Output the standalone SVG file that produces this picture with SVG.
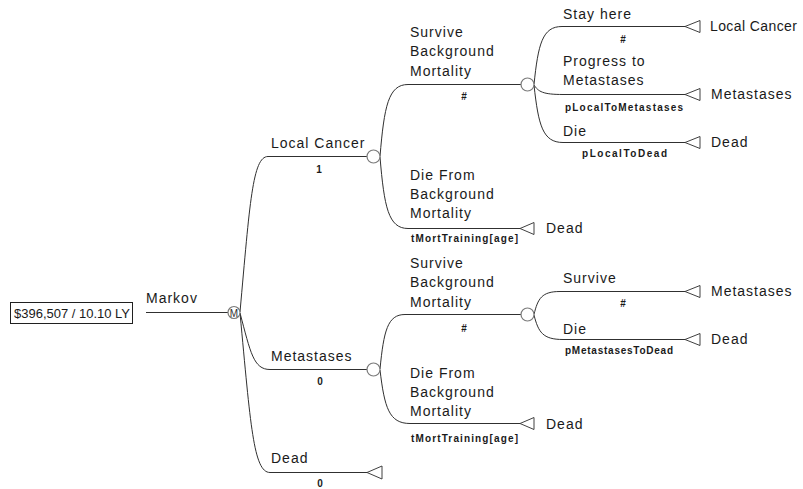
<svg xmlns="http://www.w3.org/2000/svg" width="803" height="489" viewBox="0 0 803 489">
<style>
.bg{fill:#fff}
.ln{fill:none;stroke:#303030;stroke-width:1}
.ch{fill:#fff;stroke:#7a7a7a;stroke-width:1.2}
.tm{fill:#fff;stroke:#404040;stroke-width:1}
.t{font-family:"Liberation Sans",Arial,sans-serif;font-size:14px;letter-spacing:1px;fill:#1a1a1a}
.s{font-family:"Liberation Sans",Arial,sans-serif;font-size:10px;font-weight:bold;fill:#1a1a1a}
.c{text-anchor:middle}
</style>
<rect class="bg" x="0" y="0" width="803" height="489"/>

<g id="connectors">
  <path class="ln" d="M146 312.5 H228"/>
  <path class="ln" d="M240 312 C249.8 203 252.6 156.5 268 156.5 H367"/>
  <path class="ln" d="M240 313 C250.5 352.5 253.5 369.5 270 369.5 H367"/>
  <path class="ln" d="M240 313 C250.5 424.6 253.5 472.5 270 472.5 H367"/>
  <path class="ln" d="M380 156.5 C384.2 106.1 388.4 84.5 408 84.5 H521"/>
  <path class="ln" d="M380 157 C384.2 207 388.4 228.5 408 228.5 H520"/>
  <path class="ln" d="M534 84.5 C538.2 43.9 542.4 26.5 562 26.5 H685"/>
  <path class="ln" d="M534 85 C538.4 91.6 542.7 94.5 563 94.5 H685"/>
  <path class="ln" d="M534 85 C538.4 125.3 542.7 142.5 563 142.5 H685"/>
  <path class="ln" d="M380 369 C383.8 330.9 387.5 314.5 405 314.5 H521"/>
  <path class="ln" d="M380 370 C384.5 407.5 389 423.5 410 423.5 H520"/>
  <path class="ln" d="M534 314.5 C537.9 298.4 541.8 291.5 560 291.5 H685"/>
  <path class="ln" d="M534 315 C538.4 332.2 542.7 339.5 563 339.5 H685"/>

  <text class="t" x="146" y="303">Markov</text>
  <text class="t" x="271" y="148">Local Cancer</text>
  <text class="s c" x="319" y="173">1</text>
  <text class="t" x="271" y="361">Metastases</text>
  <text class="s c" x="320" y="385">0</text>
  <text class="t" x="271" y="463">Dead</text>
  <text class="s c" x="320" y="487">0</text>

  <text class="t" x="410" y="37">Survive</text>
  <text class="t" x="410" y="56">Background</text>
  <text class="t" x="410" y="76">Mortality</text>
  <text class="s c" x="464" y="100">#</text>

  <text class="t" x="410" y="180">Die From</text>
  <text class="t" x="410" y="199">Background</text>
  <text class="t" x="410" y="218">Mortality</text>
  <text class="s" x="411" y="242" textLength="107" lengthAdjust="spacing">tMortTraining[age]</text>

  <text class="t" x="563" y="19">Stay here</text>
  <text class="s c" x="623" y="43">#</text>
  <text class="t" x="563" y="66">Progress to</text>
  <text class="t" x="563" y="85">Metastases</text>
  <text class="s" x="565" y="110.5" textLength="118" lengthAdjust="spacing">pLocalToMetastases</text>
  <text class="t" x="563" y="136">Die</text>
  <text class="s" x="582" y="157" textLength="85" lengthAdjust="spacing">pLocalToDead</text>

  <text class="t" x="410" y="268">Survive</text>
  <text class="t" x="410" y="287">Background</text>
  <text class="t" x="410" y="307">Mortality</text>
  <text class="s c" x="464" y="332">#</text>

  <text class="t" x="410" y="378">Die From</text>
  <text class="t" x="410" y="397">Background</text>
  <text class="t" x="410" y="416">Mortality</text>
  <text class="s" x="411" y="442" textLength="107" lengthAdjust="spacing">tMortTraining[age]</text>

  <text class="t" x="563" y="283">Survive</text>
  <text class="s c" x="623" y="307">#</text>
  <text class="t" x="563" y="334">Die</text>
  <text class="s" x="565" y="354" textLength="108" lengthAdjust="spacing">pMetastasesToDead</text>
</g>

<g id="root-value">
  <rect x="10.5" y="302.5" width="122" height="21" fill="#fff" stroke="#202020" stroke-width="1"/>
  <text x="14" y="318" font-family="Liberation Sans, Arial, sans-serif" font-size="12.5" fill="#1a1a1a" textLength="116" lengthAdjust="spacingAndGlyphs">$396,507 / 10.10 LY</text>
</g>

<g id="markov-node">
  <circle class="ch" cx="234" cy="312.5" r="6"/>
  <text x="234" y="316.5" text-anchor="middle" font-family="Liberation Sans, Arial, sans-serif" font-size="10" fill="#303030">M</text>
</g>

<g id="local-cancer-node"><circle class="ch" cx="373.5" cy="156.5" r="6.5"/></g>
<g id="metastases-node"><circle class="ch" cx="373.5" cy="369.5" r="6.5"/></g>
<g id="dead-terminal"><polygon class="tm" points="367,472.5 382,466 382,479"/></g>

<g id="local-survive-node"><circle class="ch" cx="527.5" cy="84.5" r="6.5"/></g>
<g id="local-die-terminal">
  <polygon class="tm" points="520,228.5 534,222.5 534,234.5"/>
  <text class="t" x="546" y="233">Dead</text>
</g>

<g id="stay-terminal">
  <polygon class="tm" points="685,26.5 700,20.5 700,32.5"/>
  <text class="t" x="710" y="31" style="letter-spacing:0.4px">Local Cancer</text>
</g>
<g id="progress-terminal">
  <polygon class="tm" points="685,94.5 700,88.5 700,100.5"/>
  <text class="t" x="711" y="99">Metastases</text>
</g>
<g id="local-dead-terminal">
  <polygon class="tm" points="685,142.5 700,136.5 700,148.5"/>
  <text class="t" x="711" y="147">Dead</text>
</g>

<g id="met-survive-node"><circle class="ch" cx="527.5" cy="314.5" r="6.5"/></g>
<g id="met-die-terminal">
  <polygon class="tm" points="520,423.5 534,417.5 534,429.5"/>
  <text class="t" x="546" y="429">Dead</text>
</g>
<g id="met-stay-terminal">
  <polygon class="tm" points="685,291.5 700,285.5 700,297.5"/>
  <text class="t" x="711" y="296">Metastases</text>
</g>
<g id="met-dead-terminal">
  <polygon class="tm" points="685,339.5 700,333.5 700,345.5"/>
  <text class="t" x="711" y="344">Dead</text>
</g>
</svg>
